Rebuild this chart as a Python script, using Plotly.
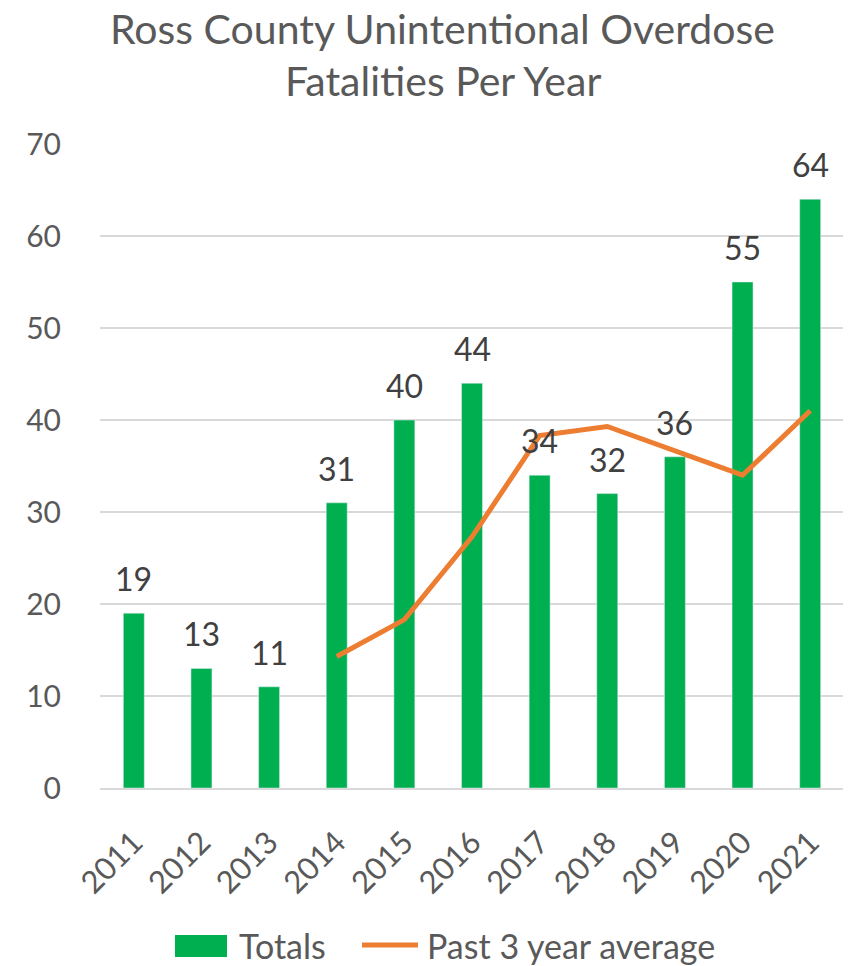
import plotly.graph_objects as go

years = ["2011", "2012", "2013", "2014", "2015", "2016", "2017", "2018", "2019", "2020", "2021"]
totals = [19, 13, 11, 31, 40, 44, 34, 32, 36, 55, 64]
avg_years = ["2014", "2015", "2016", "2017", "2018", "2019", "2020", "2021"]
avg_values = [14.3, 18.3, 27.3, 38.3, 39.3, 36.7, 34.0, 41.0]
y_ticks = [0, 10, 20, 30, 40, 50, 60, 70]
title_lines = ["Ross County Unintentional Overdose", "Fatalities Per Year"]
legend_names = ["Totals", "Past 3 year average"]

FONT = "Lato"
GREY = "#595959"
GREEN = "#00B050"
ORANGE = "#ED7D31"

fig = go.Figure()
fig.add_trace(go.Bar(
    x=years, y=totals, name=legend_names[0], marker_color=GREEN,
    width=0.31, showlegend=False,
))
fig.add_trace(go.Scatter(
    x=avg_years, y=avg_values, name=legend_names[1], mode="lines",
    line=dict(color=ORANGE, width=5), showlegend=False,
))
# data labels (drawn above the line)
fig.add_trace(go.Scatter(
    x=years, y=totals, mode="markers", marker=dict(size=1, opacity=0),
    showlegend=False, hoverinfo="skip",
))

annotations = []
for i, v in enumerate(totals):
    annotations.append(dict(
        x=i, y=v, xref="x", yref="y", text=str(v), showarrow=False,
        yanchor="bottom", yshift=13, font=dict(family=FONT, size=32, color="#404040"),
    ))
# title lines
for txt, yy in zip(title_lines, [1.180, 1.099]):
    annotations.append(dict(
        x=0.461, y=yy, xref="paper", yref="paper", text=txt, showarrow=False,
        xanchor="center", yanchor="middle", font=dict(family=FONT, size=41, color=GREY),
    ))
# legend text
annotations.append(dict(x=0.1841, y=-0.2438, xref="paper", yref="paper", text=legend_names[0],
                        showarrow=False, xanchor="left", yanchor="middle",
                        font=dict(family=FONT, size=34, color=GREY)))
annotations.append(dict(x=0.4368, y=-0.2438, xref="paper", yref="paper", text=legend_names[1],
                        showarrow=False, xanchor="left", yanchor="middle",
                        font=dict(family=FONT, size=34, color=GREY)))

shapes = [
    dict(type="rect", xref="paper", yref="paper", x0=0.1008, x1=0.1707, y0=-0.2624, y1=-0.2283,
         fillcolor=GREEN, line=dict(width=0)),
    dict(type="line", xref="paper", yref="paper", x0=0.3522, x1=0.4274, y0=-0.2438, y1=-0.2438,
         line=dict(color=ORANGE, width=5)),
]

fig.update_layout(
    width=843, height=958,
    paper_bgcolor="white", plot_bgcolor="white",
    margin=dict(l=92, r=7, t=136, b=178, autoexpand=False),
    font=dict(family=FONT, color=GREY),
    bargap=0.69,
    showlegend=False,
    annotations=annotations,
    shapes=shapes,
)
fig.update_xaxes(
    type="category", tickangle=-45, tickfont=dict(family=FONT, size=31, color=GREY),
    showgrid=False, showline=True, linecolor="#D9D9D9", linewidth=2,
    ticks="outside", ticklen=22, tickcolor="rgba(0,0,0,0)", range=[-0.5, 10.5],
    automargin=False,
)
fig.update_yaxes(
    range=[0, 70], tickvals=y_ticks, tickfont=dict(family=FONT, size=30, color=GREY),
    showgrid=True, gridcolor="#D9D9D9", gridwidth=2, zeroline=False,
    ticks="outside", ticklen=32, tickcolor="rgba(0,0,0,0)", showline=False,
    automargin=False,
)

fig.write_html("out.html")
